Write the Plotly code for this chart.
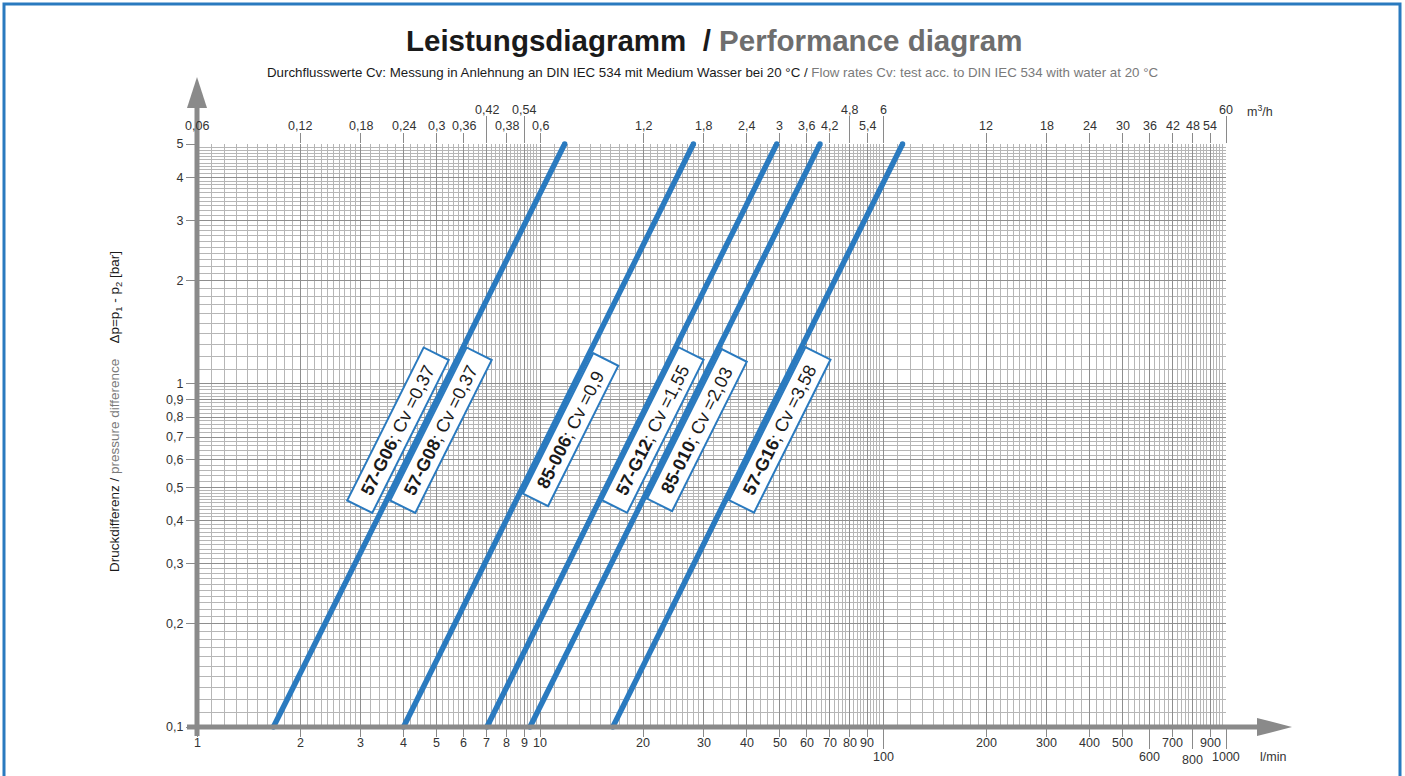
import math
import plotly.graph_objects as go

# ---------------- data ----------------
line_cv = [0.37, 0.9, 1.55, 2.03, 3.58]
dp_bar = [0.1, 5.0]                                  # pressure difference range [bar]
flow_start_lpm = [1.67, 4.0, 7.0, 9.35, 16.3]        # flow at 0.1 bar [l/min]
flow_end_lpm = [11.8, 28.0, 49.0, 65.5, 114.0]       # flow at 5 bar  [l/min]

label_codes = ["57-G06", "57-G08", "85-006", "57-G12", "85-010", "57-G16"]
label_cv_text = ["0,37", "0,37", "0,9", "1,55", "2,03", "3,58"]
label_line = [0, 0, 1, 2, 3, 4]

y_tick_vals = [0.1, 0.2, 0.3, 0.4, 0.5, 0.6, 0.7, 0.8, 0.9, 1, 2, 3, 4, 5]
y_tick_text = ["0,1", "0,2", "0,3", "0,4", "0,5", "0,6", "0,7", "0,8", "0,9", "1", "2", "3", "4", "5"]

x_bottom_vals = [1, 2, 3, 4, 5, 6, 7, 8, 9, 10, 20, 30, 40, 50, 60, 70, 80, 90, 100,
                 200, 300, 400, 500, 600, 700, 800, 900, 1000]
x_bottom_text = [str(v) for v in x_bottom_vals]
x_bottom_row = [0] * 18 + [1] + [0, 0, 0, 0, 1, 0, 2, 0, 1]

x_top_vals = x_bottom_vals
x_top_text = ["0,06", "0,12", "0,18", "0,24", "0,3", "0,36", "0,42", "0,38", "0,54", "0,6",
              "1,2", "1,8", "2,4", "3", "3,6", "4,2", "4,8", "5,4", "6",
              "12", "18", "24", "30", "36", "42", "48", "54", "60"]
x_top_raised = [0, 0, 0, 0, 0, 0, 1, 0, 1, 0,
                0, 0, 0, 0, 0, 0, 1, 0, 1,
                0, 0, 0, 0, 0, 0, 0, 0, 1]

# ---------------- style / layout constants ----------------
W, H = 1405, 776
PLOT_X0, PLOT_X1, PLOT_Y0, PLOT_Y1 = 197, 1226, 144, 727   # plot area in pixels
L, T = PLOT_X0, PLOT_Y0
R, B = W - PLOT_X1, H - PLOT_Y1
PW, PH = PLOT_X1 - PLOT_X0, PLOT_Y1 - PLOT_Y0
FONT = "Liberation Sans"
BLUE = "#2a7abf"
AXGRAY = "#8a8a8a"
DARK_GRID = "#8e8e8e"
LIGHT_GRID = "#b6b6b6"
GRAYTXT = "#7a7a7a"
TICKTXT = "#333333"


def px_x(p):
    return (p - PLOT_X0) / PW


def px_y(p):
    return (PLOT_Y1 - p) / PH


# grid values
dark_x = [m * 10 ** d for d in range(3) for m in range(1, 10)] + [1000]
light_x = []
for d in range(3):
    base = 10 ** d
    for k in range(10, 30):
        if k % 10:
            light_x.append(round(k / 10 * base, 6))
    for k in range(30, 100, 2):
        if k % 10:
            light_x.append(round(k / 10 * base, 6))
dark_y = y_tick_vals
light_y = []
for d in (-1, 0):
    base = 10 ** d
    for k in range(10, 50):
        if k % 10 and k / 10 * base <= 5:
            light_y.append(round(k / 10 * base, 6))
    if d == -1:
        for k in range(50, 100, 2):
            if k % 10:
                light_y.append(round(k / 10 * base, 6))

bottom_short = [v for v, r in zip(x_bottom_vals, x_bottom_row) if r == 0]
bottom_long = [v for v, r in zip(x_bottom_vals, x_bottom_row) if r > 0]
top_short = [v for v, r in zip(x_top_vals, x_top_raised) if r == 0]
top_long = [v for v, r in zip(x_top_vals, x_top_raised) if r == 1]

fig = go.Figure()

# performance lines
for q0, q1, cv in zip(flow_start_lpm, flow_end_lpm, line_cv):
    fig.add_trace(go.Scatter(
        x=[q0, q1], y=dp_bar, mode="lines+markers",
        line=dict(color=BLUE, width=5.5),
        marker=dict(color=BLUE, size=5.5),
        cliponaxis=False, showlegend=False, hoverinfo="skip", name=f"Cv {cv}"))

# dummy traces for overlay tick axes
for xa in ("x2", "x3"):
    fig.add_trace(go.Scatter(x=[1, 1000], y=[0.1, 5], xaxis=xa, mode="markers",
                             marker=dict(opacity=0), showlegend=False, hoverinfo="skip"))

axis_common = dict(type="log", range=[0, 3], showticklabels=False, zeroline=False,
                   showline=False)
fig.update_layout(
    width=W, height=H, autosize=False,
    margin=dict(l=L, r=R, t=T, b=B),
    paper_bgcolor="white", plot_bgcolor="white",
    font=dict(family=FONT, color=TICKTXT, size=12),
    hovermode=False,
    xaxis=dict(**axis_common, tickvals=dark_x, ticks="", showgrid=True,
               gridcolor=DARK_GRID, gridwidth=1,
               minor=dict(tickvals=light_x, showgrid=True, gridcolor=LIGHT_GRID,
                          gridwidth=1, ticks="")),
    xaxis2=dict(**axis_common, overlaying="x", side="top", anchor="y",
                tickvals=top_short, ticks="outside", ticklen=10, tickwidth=1,
                tickcolor=AXGRAY, showgrid=False,
                minor=dict(tickvals=top_long, ticks="outside", ticklen=27,
                           tickwidth=1, tickcolor=AXGRAY, showgrid=False)),
    xaxis3=dict(**axis_common, overlaying="x", side="bottom", anchor="y",
                tickvals=bottom_short, ticks="outside", ticklen=9, tickwidth=1,
                tickcolor=AXGRAY, showgrid=False,
                minor=dict(tickvals=bottom_long, ticks="outside", ticklen=21,
                           tickwidth=1, tickcolor=AXGRAY, showgrid=False)),
    yaxis=dict(type="log", range=[-1, math.log10(5)], tickvals=y_tick_vals,
               ticktext=y_tick_text, ticks="outside", ticklen=10, tickwidth=1,
               tickcolor=AXGRAY, showgrid=True, gridcolor=DARK_GRID, gridwidth=1,
               zeroline=False, showline=False,
               tickfont=dict(family=FONT, size=12.5, color=TICKTXT),
               minor=dict(tickvals=light_y, showgrid=True, gridcolor=LIGHT_GRID,
                          gridwidth=1, ticks="")),
)

shapes = []
# page frame
shapes.append(dict(type="rect", xref="paper", yref="paper",
                   x0=px_x(4), x1=px_x(1400), y0=px_y(800), y1=px_y(4),
                   line=dict(color=BLUE, width=3), fillcolor="rgba(0,0,0,0)"))
# y axis line + arrow
shapes.append(dict(type="line", xref="paper", yref="paper", x0=0, x1=0,
                   y0=px_y(736), y1=px_y(106), line=dict(color=AXGRAY, width=5)))
shapes.append(dict(type="path", xref="paper", yref="paper",
                   path=f"M {px_x(187)},{px_y(108)} L {px_x(207)},{px_y(108)} L {px_x(197)},{px_y(77)} Z",
                   fillcolor=AXGRAY, line=dict(width=0)))
# x axis line + arrow
shapes.append(dict(type="line", xref="paper", yref="paper", x0=px_x(187), x1=px_x(1260),
                   y0=0, y1=0, line=dict(color=AXGRAY, width=5)))
shapes.append(dict(type="path", xref="paper", yref="paper",
                   path=f"M {px_x(1257)},{px_y(718)} L {px_x(1257)},{px_y(736)} L {px_x(1292)},{px_y(727)} Z",
                   fillcolor=AXGRAY, line=dict(width=0)))
fig.update_layout(shapes=shapes)

ann = []
# title & subtitle
ann.append(dict(xref="paper", yref="paper", x=px_x(714), y=px_y(41), showarrow=False,
                xanchor="center", yanchor="middle",
                text="<b>Leistungsdiagramm\u00a0\u00a0/ <span style='color:#6e6e6e'>Performance diagram</span></b>",
                font=dict(family=FONT, size=29.5, color="#1a1a1a")))
ann.append(dict(xref="paper", yref="paper", x=px_x(712), y=px_y(73), showarrow=False,
                xanchor="center", yanchor="middle",
                text="Durchflusswerte Cv: Messung in Anlehnung an DIN IEC 534 mit Medium Wasser bei 20 °C / "
                     f"<span style='color:{GRAYTXT}'>Flow rates Cv: test acc. to DIN IEC 534 with water at 20 °C</span>",
                font=dict(family=FONT, size=13.3, color="#1a1a1a")))
# y-axis title
ann.append(dict(xref="paper", yref="paper", x=px_x(115), y=px_y(412), showarrow=False,
                textangle=-90, xanchor="center", yanchor="middle",
                text=f"Druckdifferenz / <span style='color:{GRAYTXT}'>pressure difference</span>"
                     "\u00a0\u00a0\u00a0\u00a0Δp=p<sub>1</sub> - p<sub>2</sub> [bar]",
                font=dict(family=FONT, size=13.5, color="#1a1a1a")))
# bottom tick labels
row_y = {0: 743, 1: 757, 2: 760}
for v, t, r in zip(x_bottom_vals, x_bottom_text, x_bottom_row):
    ann.append(dict(xref="x", yref="paper", x=math.log10(v), y=px_y(row_y[r]),
                    showarrow=False, xanchor="center", yanchor="middle", text=t,
                    font=dict(family=FONT, size=12.5, color=TICKTXT)))
ann.append(dict(xref="paper", yref="paper", x=px_x(1258), y=px_y(757), showarrow=False,
                xanchor="left", yanchor="middle", text="l/min",
                font=dict(family=FONT, size=12.5, color=TICKTXT)))
# top tick labels
for v, t, r in zip(x_top_vals, x_top_text, x_top_raised):
    ann.append(dict(xref="x", yref="paper", x=math.log10(v), y=px_y(110 if r else 126),
                    showarrow=False, xanchor="center", yanchor="middle", text=t,
                    font=dict(family=FONT, size=12.5, color=TICKTXT)))
ann.append(dict(xref="paper", yref="paper", x=px_x(1245), y=px_y(111), showarrow=False,
                xanchor="left", yanchor="middle", text="m<sup>3</sup>/h",
                font=dict(family=FONT, size=12.5, color=TICKTXT)))

# rotated series labels
label_dp = 0.735
label_xshift = [-24, 19, 19, 18, 19, 19]
ly = math.log10(label_dp)
frac = (ly - math.log10(dp_bar[0])) / (math.log10(dp_bar[1]) - math.log10(dp_bar[0]))
angle = -math.degrees(math.atan2(PH / math.log10(dp_bar[1] / dp_bar[0]), PW / 3 * 0.5))
for code, cvt, li, xs in zip(label_codes, label_cv_text, label_line, label_xshift):
    lq0 = math.log10(flow_start_lpm[li])
    lq1 = math.log10(flow_end_lpm[li])
    lx = lq0 + frac * (lq1 - lq0)
    ann.append(dict(xref="x", yref="y", x=lx, y=ly, xshift=xs, showarrow=False,
                    xanchor="center", yanchor="middle", textangle=angle,
                    text=f"\u00a0\u00a0<b>{code}</b>; Cv ={cvt}\u00a0\u00a0",
                    font=dict(family=FONT, size=18, color="#1a1a1a"),
                    bgcolor="white", bordercolor=BLUE, borderwidth=2, borderpad=3))
fig.update_layout(annotations=ann)

fig.write_html("out.html",
               config={"displayModeBar": False, "staticPlot": True},
               post_script="document.body.style.margin='0px';"
                           "document.body.style.overflow='hidden';")
